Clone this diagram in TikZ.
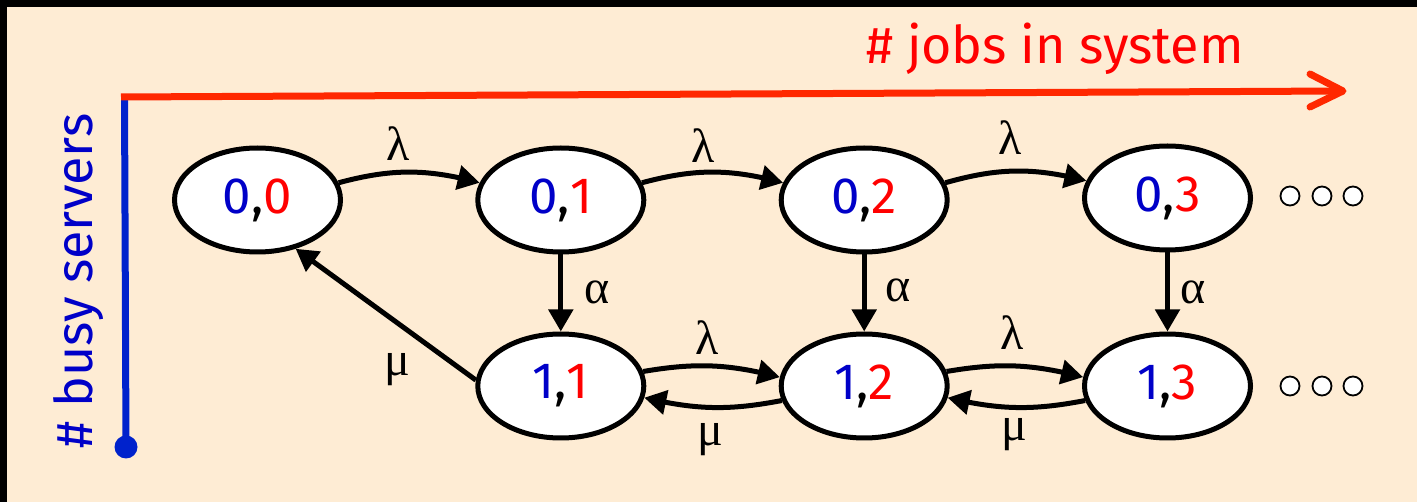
\documentclass[tikz,border=0pt]{standalone}
\usepackage{fontspec}
\setmainfont{Liberation Serif}
\newfontfamily\comic{Fira Sans}
\usetikzlibrary{shapes.geometric,arrows.meta,bending}
\definecolor{bg}{RGB}{254,236,212}
\definecolor{axred}{RGB}{255,40,0}
\definecolor{axblue}{RGB}{0,34,204}
\definecolor{dblue}{RGB}{0,0,200}
\definecolor{dred}{RGB}{255,0,0}
\begin{document}
\begin{tikzpicture}[x=1pt,y=-1pt,
 state/.style={ellipse,draw=black,line width=5pt,fill=white,minimum width=166pt,minimum height=104pt,inner sep=0pt,font=\comic\fontsize{51}{53}\selectfont},
 trans/.style={line width=5pt,-{Triangle[length=22pt,width=24pt]}},
 lab/.style={font=\fontsize{48}{50}\selectfont,inner sep=0pt},
 dotc/.style={circle,draw=black,line width=1.8pt,fill=white,minimum size=19pt,inner sep=0pt},
 axis/.style={line width=7pt,line cap=round,line join=round},
 axlab/.style={font=\comic\fontsize{52}{54}\selectfont}]
\useasboundingbox (0,0) rectangle (1417,502);
\fill[bg] (0,0) rectangle (1417,502);
\fill[black] (0,0) rectangle (1417,7);
\fill[black] (0,0) rectangle (7,502);
% axes
\coordinate (origin) at (124.5,97);
\coordinate (yend) at (126,447);
\coordinate (xstart) at (121,97);
\coordinate (xend) at (1343,91);
\coordinate (barbA) at (1310,74);
\coordinate (barbB) at (1310,107);
\draw[axis,axblue,line cap=butt] (origin) -- (yend);
\fill[axblue] (yend) circle (11.5pt);
\draw[axis,axred,line cap=butt] (xstart) -- (xend);
\draw[axis,axred] (barbA) -- (xend) -- (barbB);
\node[axlab,text=dred,anchor=base] (xlab) at (1055,64) {\# jobs in system};
\node[axlab,text=dblue,rotate=90,anchor=base] (ylab) at (92,281) {\# busy servers};
% states
\node[state] (n00) at (257.5,200) {{\color{dblue}0},{\color{dred}0}};
\node[state] (n01) at (560.8,200) {{\color{dblue}0},{\color{dred}1}};
\node[state] (n02) at (864.2,200) {{\color{dblue}0},{\color{dred}2}};
\node[state] (n03) at (1167.5,198) {{\color{dblue}0},{\color{dred}3}};
\node[state] (n11) at (560.8,386) {{\color{dblue}1},{\color{dred}1}};
\node[state] (n12) at (864.2,386) {{\color{dblue}1},{\color{dred}2}};
\node[state] (n13) at (1167.5,386) {{\color{dblue}1},{\color{dred}3}};
% dots
\foreach \i/\xx in {1/1290,2/1322,3/1353}{
  \node[dotc] (dt\i) at (\xx,196) {};
  \node[dotc] (db\i) at (\xx,386) {};
}
% transitions
\draw[trans] (n00.12) to[bend left=15] (n01.168);
\draw[trans] (n01.12) to[bend left=15] (n02.168);
\draw[trans] (n02.12) to[bend left=15] (n03.168);
\draw[trans] (n01.south) -- (n11.north);
\draw[trans] (n02.south) -- (n12.north);
\draw[trans] (n03.south) -- (n13.north);
\draw[trans] (n11.10) to[bend left=12] (n12.174);
\draw[trans] (n12.190) to[bend left=12] (n11.-8);
\draw[trans] (n12.10) to[bend left=12] (n13.174);
\draw[trans] (n13.190) to[bend left=12] (n12.-8);
\draw[trans] (n11.176) -- (n00.-52);
% labels
\node[lab] (l1) at (398,144) {λ};
\node[lab] (l2) at (703,146) {λ};
\node[lab] (l3) at (1010,138) {λ};
\node[lab] (a1) at (597,292) {α};
\node[lab] (a2) at (898,290) {α};
\node[lab] (a3) at (1193,292) {α};
\node[lab] (m0) at (397,370) {μ};
\node[lab] (l4) at (707,338) {λ};
\node[lab] (l5) at (1012,333) {λ};
\node[lab] (m1) at (710,440) {μ};
\node[lab] (m2) at (1014,435) {μ};
\end{tikzpicture}
\end{document}
